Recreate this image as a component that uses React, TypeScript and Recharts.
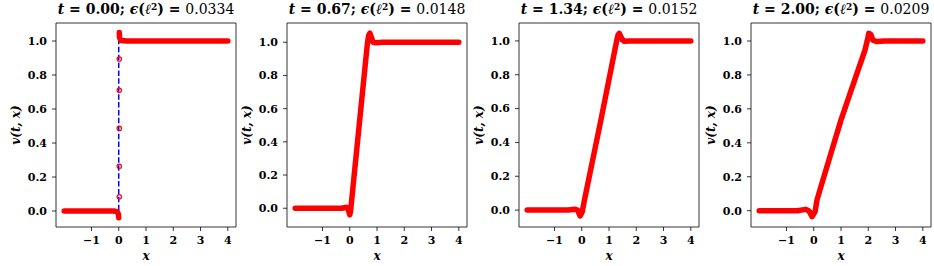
import { ComposedChart, Line, Scatter, XAxis, YAxis, ReferenceArea } from 'recharts';

type Pt = { x: number; v: number };

const times = ['0.00', '0.67', '1.34', '2.00'];
const errors = ['0.0334', '0.0148', '0.0152', '0.0209'];
const xTicks = [-1, 0, 1, 2, 3, 4];
const yTicks = [0, 0.2, 0.4, 0.6, 0.8, 1.0];

// exact solution (blue dashed)
const exactT0: Pt[] = [{ x: -2, v: 0 }, { x: 0, v: 0 }, { x: 0, v: 1 }, { x: 4, v: 1 }];
const exactT1: Pt[] = [{ x: -2, v: 0 }, { x: 0, v: 0 }, { x: 0.67, v: 1 }, { x: 4, v: 1 }];
const exactT2: Pt[] = [{ x: -2, v: 0 }, { x: 0, v: 0 }, { x: 1.34, v: 1 }, { x: 4, v: 1 }];
const exactT3: Pt[] = [{ x: -2, v: 0 }, { x: 0, v: 0 }, { x: 2, v: 1 }, { x: 4, v: 1 }];

// network prediction (red)
const predT0Left: Pt[] = [
  { x: -2, v: 0 }, { x: -0.15, v: 0 }, { x: -0.05, v: -0.005 }, { x: -0.01, v: -0.02 }, { x: 0, v: -0.04 },
];
const predT0Right: Pt[] = [
  { x: 0.02, v: 1.05 }, { x: 0.03, v: 1.02 }, { x: 0.08, v: 1.003 }, { x: 0.3, v: 1.0 }, { x: 4, v: 1.0 },
];
const predT0Jump: Pt[] = [
  { x: 0.02, v: 0.084 }, { x: 0.02, v: 0.263 }, { x: 0.02, v: 0.486 }, { x: 0.02, v: 0.71 }, { x: 0.02, v: 0.894 },
];
const predT1: Pt[] = [
  { x: -2, v: 0 }, { x: -0.3, v: 0 }, { x: -0.12, v: 0.006 }, { x: -0.05, v: -0.01 }, { x: 0, v: -0.04 },
  { x: 0.03, v: -0.02 }, { x: 0.06, v: 0.03 }, { x: 0.64, v: 0.98 }, { x: 0.69, v: 1.04 }, { x: 0.74, v: 1.055 },
  { x: 0.79, v: 1.03 }, { x: 0.86, v: 1.0 }, { x: 0.95, v: 0.997 }, { x: 1.2, v: 1.0 }, { x: 4, v: 1.0 },
];
const predT2: Pt[] = [
  { x: -2, v: 0 }, { x: -0.5, v: 0 }, { x: -0.25, v: 0.005 }, { x: -0.15, v: 0 }, { x: -0.06, v: -0.035 },
  { x: 0.02, v: -0.01 }, { x: 0.1, v: 0.06 }, { x: 0.7, v: 0.53 }, { x: 1.28, v: 1.0 }, { x: 1.33, v: 1.035 },
  { x: 1.38, v: 1.045 }, { x: 1.45, v: 1.02 }, { x: 1.55, v: 0.998 }, { x: 1.75, v: 1.0 }, { x: 4, v: 1.0 },
];
const predT3: Pt[] = [
  { x: -2, v: 0 }, { x: -0.6, v: 0 }, { x: -0.3, v: 0.008 }, { x: -0.18, v: 0 }, { x: -0.06, v: -0.035 },
  { x: 0.05, v: -0.005 }, { x: 0.12, v: 0.063 }, { x: 0.26, v: 0.14 }, { x: 1.0, v: 0.535 }, { x: 1.88, v: 0.947 },
  { x: 1.96, v: 1.0 }, { x: 2.02, v: 1.045 }, { x: 2.09, v: 1.04 }, { x: 2.17, v: 1.005 }, { x: 2.3, v: 0.997 },
  { x: 2.6, v: 1.0 }, { x: 4, v: 1.0 },
];

const panels = [
  { exact: exactT0, pred: [predT0Left, predT0Right], marks: predT0Jump, yDomain: [-0.094, 1.106], left: 0 },
  { exact: exactT1, pred: [predT1], marks: [] as Pt[], yDomain: [-0.113, 1.116], left: 231 },
  { exact: exactT2, pred: [predT2], marks: [] as Pt[], yDomain: [-0.1, 1.106], left: 463 },
  { exact: exactT3, pred: [predT3], marks: [] as Pt[], yDomain: [-0.096, 1.106], left: 695 },
];

const FONT = '"DejaVu Serif", serif';
const xDomain: [number, number] = [-2.3, 4.3];
const PLOT_W = 180;
const Y_AXIS_W = 56;

const tickStyle = { fill: '#000', fontSize: 11, fontFamily: FONT, fontWeight: 'bold' as const };

const Panel = ({ idx }: { idx: number }) => {
  const p = panels[idx];
  const plotLeft = p.left + Y_AXIS_W;
  return (
    <>
      <div
        style={{
          position: 'absolute', left: plotLeft - 20, width: PLOT_W + 40, top: 1, textAlign: 'center',
          fontFamily: FONT, fontWeight: 'bold', fontSize: 14, whiteSpace: 'nowrap', color: '#000',
        }}
      >
        <i>t</i> = {times[idx]}; <i>ϵ</i>(<i>ℓ</i>
        <span style={{ fontSize: 9, verticalAlign: '0.5em' }}>2</span>) ={' '}
        <span style={{ fontWeight: 'normal' }}>{errors[idx]}</span>
      </div>
      <div
        style={{
          position: 'absolute', left: p.left + 16 - 102, top: 125 - 8, width: 204, height: 16, lineHeight: '16px',
          textAlign: 'center', transform: 'rotate(-90deg)', fontFamily: FONT, fontWeight: 'bold',
          fontStyle: 'italic', fontSize: 12, color: '#000',
        }}
      >
        v(t, x)
      </div>
      <div
        style={{
          position: 'absolute', left: plotLeft, width: PLOT_W, top: 249, textAlign: 'center', fontFamily: FONT,
          fontWeight: 'bold', fontStyle: 'italic', fontSize: 12, color: '#000',
        }}
      >
        x
      </div>
      <div style={{ position: 'absolute', left: p.left, top: 0 }}>
        <ComposedChart width={Y_AXIS_W + PLOT_W + 4} height={266} margin={{ top: 23, right: 4, bottom: 0, left: 0 }}>
          <XAxis
            dataKey="x" type="number" domain={xDomain} allowDataOverflow ticks={xTicks} interval={0}
            height={39} axisLine={false} tickSize={4} tickMargin={5}
            tickLine={{ stroke: '#000', strokeWidth: 0.8 }} tick={tickStyle}
            tickFormatter={(v: number) => String(v).replace('-', '\u2212')}
          />
          <YAxis
            dataKey="v" type="number" domain={p.yDomain} allowDataOverflow ticks={yTicks} interval={0}
            width={Y_AXIS_W} axisLine={false} tickSize={4} tickMargin={5}
            tickLine={{ stroke: '#000', strokeWidth: 0.8 }} tick={tickStyle}
            tickFormatter={(v: number) => v.toFixed(1)}
          />
          <Line
            data={p.exact} dataKey="v" stroke="#0000ff" strokeWidth={1.5} strokeDasharray="5.5 2.4"
            dot={false} isAnimationActive={false}
          />
          {p.pred.map((seg, i) => (
            <Line
              key={i} data={seg} dataKey="v" stroke="#ff0000" strokeWidth={5.5} strokeLinecap="round"
              strokeLinejoin="round" dot={false} isAnimationActive={false}
            />
          ))}
          {p.marks.length > 0 && (
            <Scatter
              data={p.marks} dataKey="v" isAnimationActive={false}
              shape={(s: any) => <circle cx={s.cx} cy={s.cy} r={2.2} fill="none" stroke="#ff0000" strokeWidth={1.2} />}
            />
          )}
          <ReferenceArea
            x1={xDomain[0]} x2={xDomain[1]} y1={p.yDomain[0]} y2={p.yDomain[1]}
            fill="none" fillOpacity={0} stroke="#000" strokeWidth={0.8} ifOverflow="visible"
          />
        </ComposedChart>
      </div>
    </>
  );
};

export default function App() {
  return (
    <div style={{ position: 'absolute', left: 0, top: 0, width: 934, height: 266, background: '#fff' }}>
      {panels.map((_, i) => (
        <Panel key={i} idx={i} />
      ))}
    </div>
  );
}
